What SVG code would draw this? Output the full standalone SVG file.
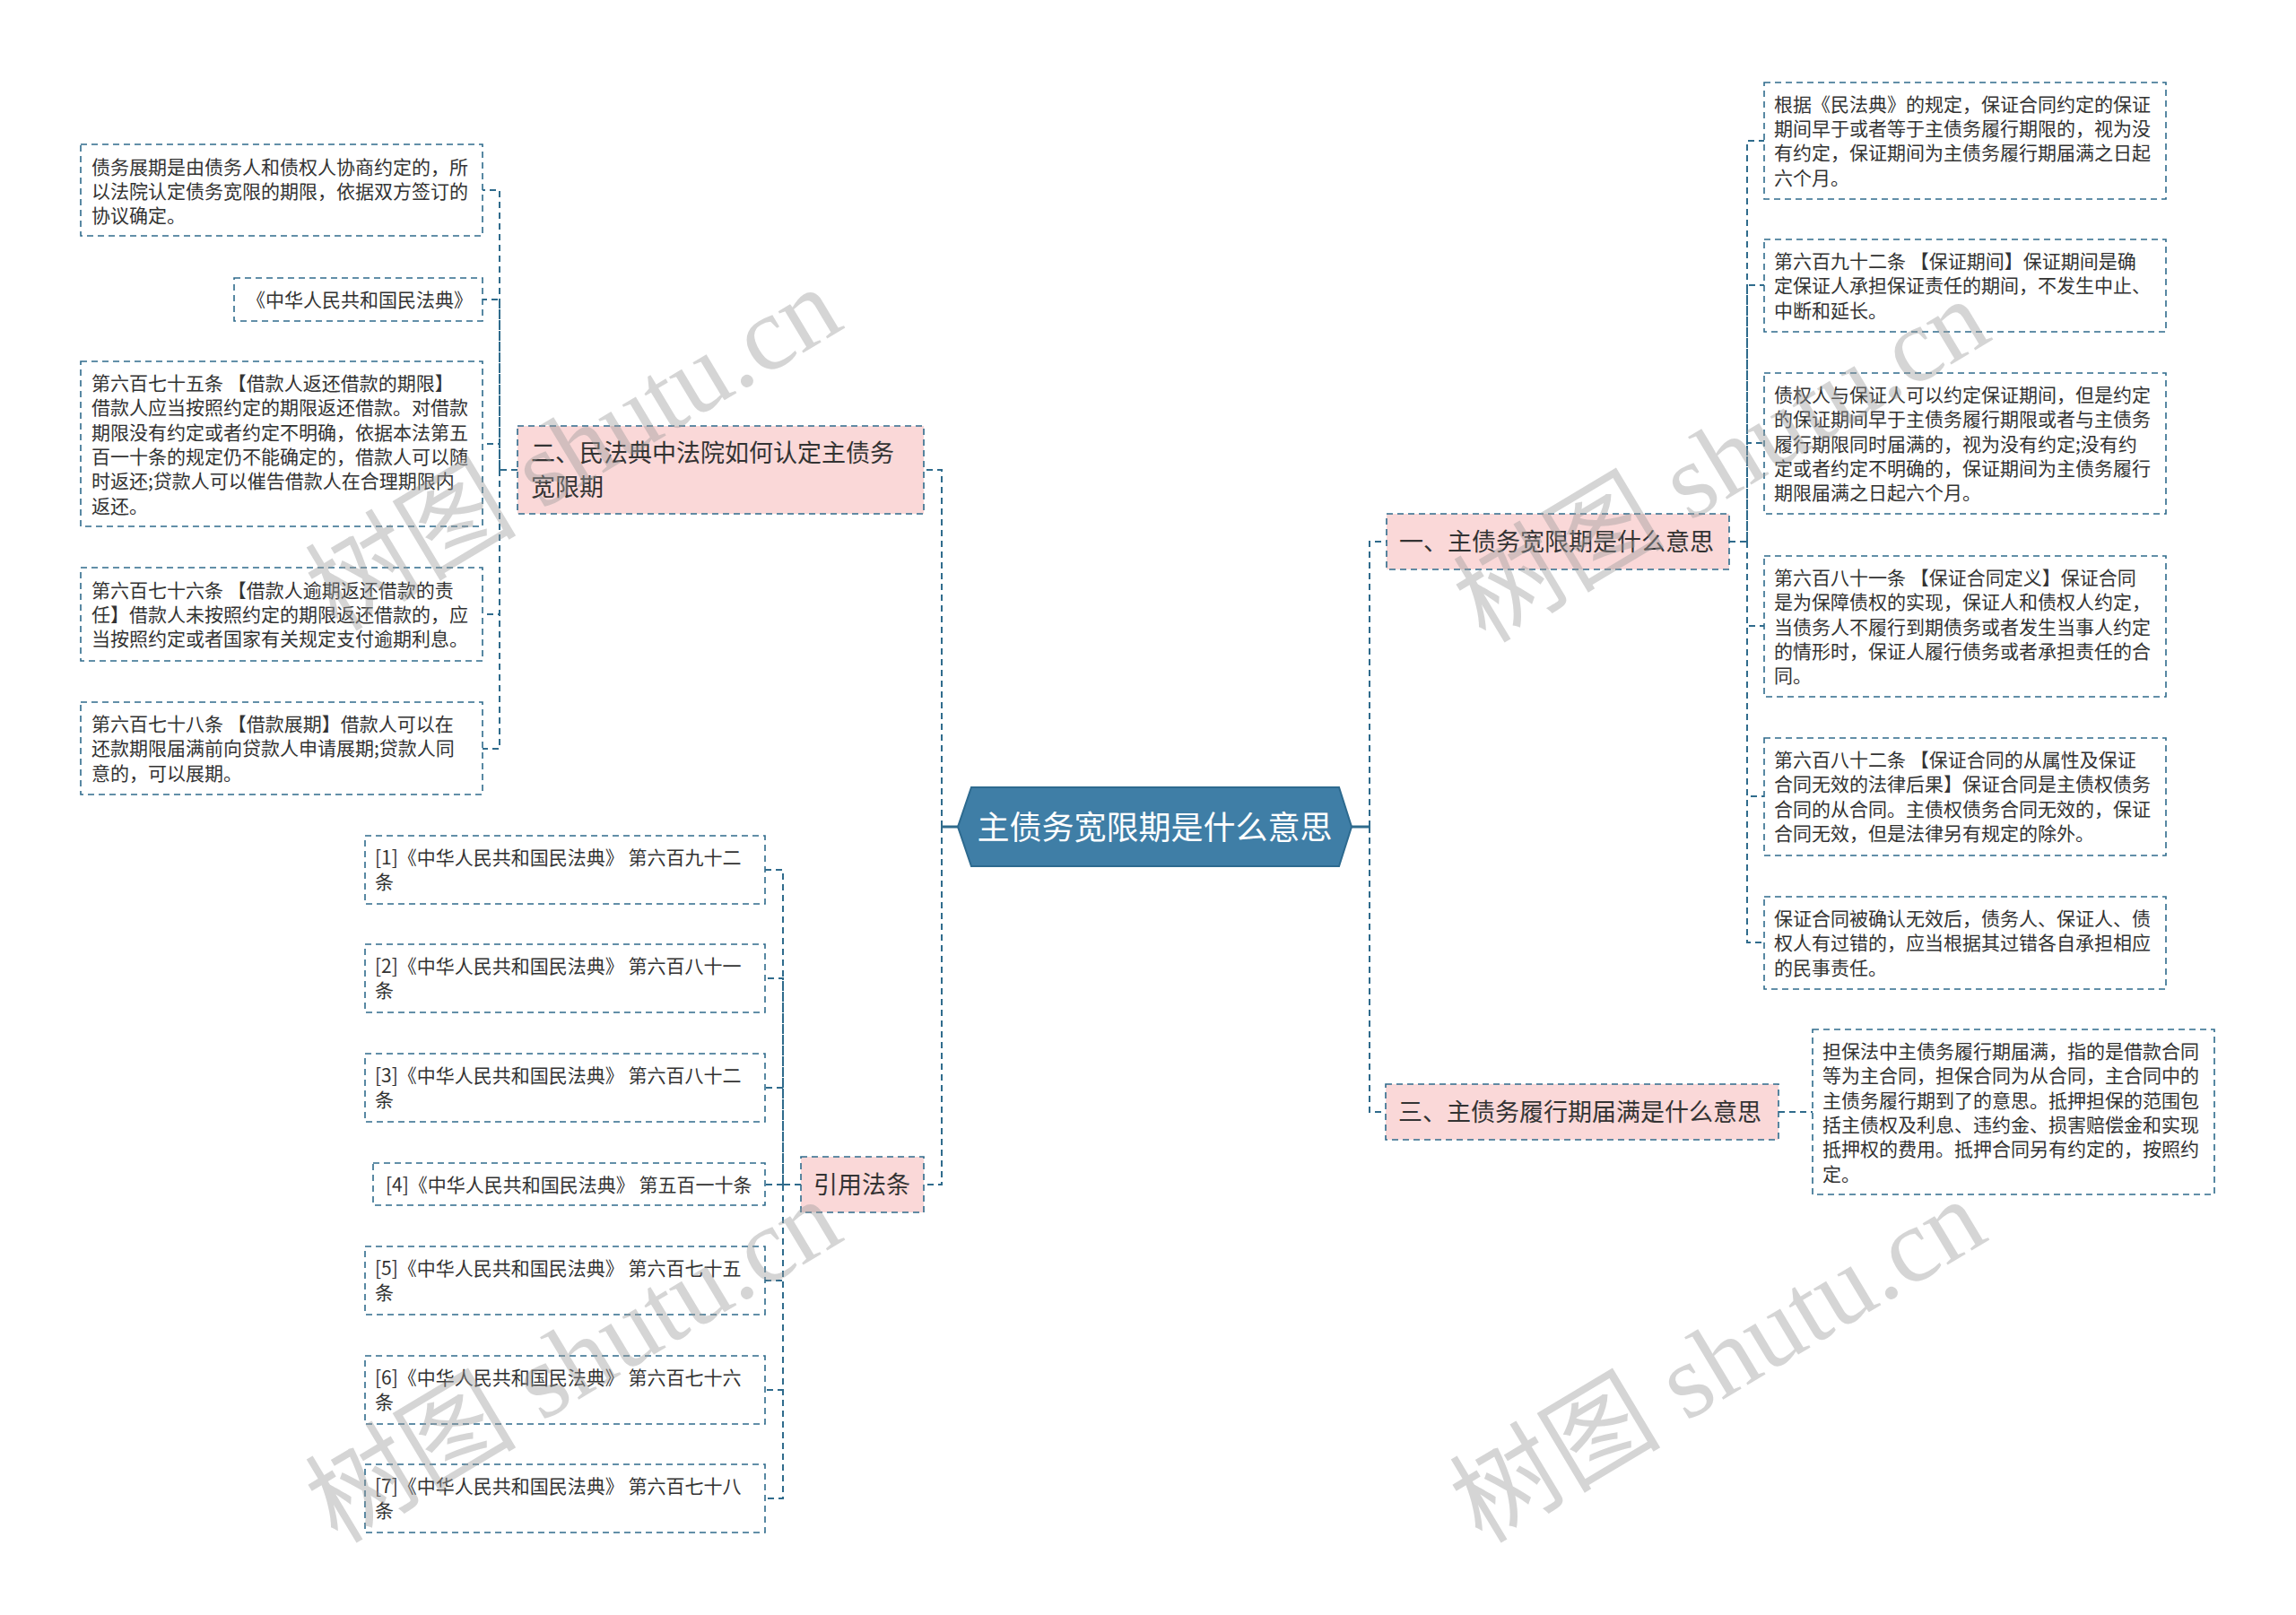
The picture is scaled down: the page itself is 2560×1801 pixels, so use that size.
<svg xmlns="http://www.w3.org/2000/svg" width="2560" height="1801" viewBox="0 0 2560 1801">
<style>
.bg{fill:#ffffff}
.leaf{fill:#ffffff;stroke:#2f6b8c;stroke-width:1.6;stroke-dasharray:7 5}
.l1{fill:#fad8d8;stroke:#2f6b8c;stroke-width:1.6;stroke-dasharray:7 5}
.t{font-family:"Noto Sans CJK SC","Noto Sans",sans-serif;font-size:21px;fill:#333333}
.t1{font-family:"Noto Sans CJK SC","Noto Sans",sans-serif;font-size:27px;fill:#333333}
.tc{font-family:"Noto Sans CJK SC","Noto Sans",sans-serif;font-size:36px;fill:#ffffff}
.c{fill:none;stroke:#2f6b8c;stroke-width:2;stroke-dasharray:7 5}
.cs{fill:none;stroke:#2f6b8c;stroke-width:3}
.wm{font-family:"Liberation Serif","Noto Sans CJK SC",serif;font-size:118px;fill:#9a9a9a;fill-opacity:0.42}
</style>
<rect class="bg" x="0" y="0" width="2560" height="1801"/>

<g id="connectors">
  <path class="cs" d="M1068,922 H1050"/>
  <path class="cs" d="M1507,922 H1527"/>
  <path class="c" d="M1050,922 V524 H1030"/>
  <path class="c" d="M1050,922 V1321 H1030"/>
  <path class="c" d="M1527,922 V604 H1546"/>
  <path class="c" d="M1527,922 V1240 H1545"/>
  <path class="c" d="M577,524 H557 V212 H538"/>
  <path class="c" d="M557,524 V334 H538"/>
  <path class="c" d="M557,524 V495 H538"/>
  <path class="c" d="M557,524 V685 H538"/>
  <path class="c" d="M557,524 V835 H538"/>
  <path class="c" d="M893,1321 H873 V970 H853"/>
  <path class="c" d="M873,1321 V1091 H853"/>
  <path class="c" d="M873,1321 V1213 H853"/>
  <path class="c" d="M873,1321 H853"/>
  <path class="c" d="M873,1321 V1428 H853"/>
  <path class="c" d="M873,1321 V1550 H853"/>
  <path class="c" d="M873,1321 V1671 H853"/>
  <path class="c" d="M1928,604 H1948 V157 H1967"/>
  <path class="c" d="M1948,604 V318 H1967"/>
  <path class="c" d="M1948,604 V494 H1967"/>
  <path class="c" d="M1948,604 V698 H1967"/>
  <path class="c" d="M1948,604 V888 H1967"/>
  <path class="c" d="M1948,604 V1051 H1967"/>
  <path class="c" d="M1983,1240 H2021"/>
</g>

<g id="central">
  <polygon points="1068,922 1083,878 1493,878 1507,922 1493,966 1083,966" fill="#3f7ea6" stroke="#2d6a8f" stroke-width="2"/>
  <text class="tc" x="1287.5" y="936" text-anchor="middle">主债务宽限期是什么意思</text>
</g>

<g id="n2">
  <rect class="l1" x="577" y="475" width="453" height="98"/>
  <text class="t1" x="592" y="515">二、民法典中法院如何认定主债务</text>
  <text class="t1" x="592" y="553">宽限期</text>
</g>
<g id="nref">
  <rect class="l1" x="893" y="1290" width="137" height="62"/>
  <text class="t1" x="907" y="1331">引用法条</text>
</g>
<g id="n1">
  <rect class="l1" x="1546" y="573" width="382" height="62"/>
  <text class="t1" x="1560" y="614">一、主债务宽限期是什么意思</text>
</g>
<g id="n3">
  <rect class="l1" x="1545" y="1209" width="438" height="62"/>
  <text class="t1" x="1559" y="1250">三、主债务履行期届满是什么意思</text>
</g>

<g id="l1">
  <rect class="leaf" x="90" y="161" width="448" height="102"/>
  <text class="t" x="102" y="194">债务展期是由债务人和债权人协商约定的，所</text>
  <text class="t" x="102" y="221">以法院认定债务宽限的期限，依据双方签订的</text>
  <text class="t" x="102" y="248">协议确定。</text>
</g>
<g id="l2">
  <rect class="leaf" x="261" y="310" width="277" height="48"/>
  <text class="t" x="275" y="342">《中华人民共和国民法典》</text>
</g>
<g id="l3">
  <rect class="leaf" x="90" y="403" width="448" height="184"/>
  <text class="t" x="102" y="435">第六百七十五条 【借款人返还借款的期限】</text>
  <text class="t" x="102" y="462">借款人应当按照约定的期限返还借款。对借款</text>
  <text class="t" x="102" y="490">期限没有约定或者约定不明确，依据本法第五</text>
  <text class="t" x="102" y="517">百一十条的规定仍不能确定的，借款人可以随</text>
  <text class="t" x="102" y="544">时返还;贷款人可以催告借款人在合理期限内</text>
  <text class="t" x="102" y="572">返还。</text>
</g>
<g id="l4">
  <rect class="leaf" x="90" y="633" width="448" height="104"/>
  <text class="t" x="102" y="666">第六百七十六条 【借款人逾期返还借款的责</text>
  <text class="t" x="102" y="693">任】借款人未按照约定的期限返还借款的，应</text>
  <text class="t" x="102" y="720">当按照约定或者国家有关规定支付逾期利息。</text>
</g>
<g id="l5">
  <rect class="leaf" x="90" y="783" width="448" height="103"/>
  <text class="t" x="102" y="815">第六百七十八条 【借款展期】借款人可以在</text>
  <text class="t" x="102" y="842">还款期限届满前向贷款人申请展期;贷款人同</text>
  <text class="t" x="102" y="870">意的，可以展期。</text>
</g>

<g id="c1">
  <rect class="leaf" x="407" y="932" width="446" height="76"/>
  <text class="t" x="418" y="964">[1]《中华人民共和国民法典》 第六百九十二</text>
  <text class="t" x="418" y="991">条</text>
</g>
<g id="c2">
  <rect class="leaf" x="407" y="1053" width="446" height="76"/>
  <text class="t" x="418" y="1085">[2]《中华人民共和国民法典》 第六百八十一</text>
  <text class="t" x="418" y="1112">条</text>
</g>
<g id="c3">
  <rect class="leaf" x="407" y="1175" width="446" height="76"/>
  <text class="t" x="418" y="1207">[3]《中华人民共和国民法典》 第六百八十二</text>
  <text class="t" x="418" y="1234">条</text>
</g>
<g id="c4">
  <rect class="leaf" x="416" y="1297" width="437" height="47"/>
  <text class="t" x="430" y="1329">[4]《中华人民共和国民法典》 第五百一十条</text>
</g>
<g id="c5">
  <rect class="leaf" x="407" y="1390" width="446" height="76"/>
  <text class="t" x="418" y="1422">[5]《中华人民共和国民法典》 第六百七十五</text>
  <text class="t" x="418" y="1449">条</text>
</g>
<g id="c6">
  <rect class="leaf" x="407" y="1512" width="446" height="76"/>
  <text class="t" x="418" y="1544">[6]《中华人民共和国民法典》 第六百七十六</text>
  <text class="t" x="418" y="1571">条</text>
</g>
<g id="c7">
  <rect class="leaf" x="407" y="1633" width="446" height="76"/>
  <text class="t" x="418" y="1665">[7]《中华人民共和国民法典》 第六百七十八</text>
  <text class="t" x="418" y="1692">条</text>
</g>

<g id="r1">
  <rect class="leaf" x="1967" y="92" width="448" height="130"/>
  <text class="t" x="1978" y="124">根据《民法典》的规定，保证合同约定的保证</text>
  <text class="t" x="1978" y="151">期间早于或者等于主债务履行期限的，视为没</text>
  <text class="t" x="1978" y="178">有约定，保证期间为主债务履行期届满之日起</text>
  <text class="t" x="1978" y="206">六个月。</text>
</g>
<g id="r2">
  <rect class="leaf" x="1967" y="267" width="448" height="103"/>
  <text class="t" x="1978" y="299">第六百九十二条 【保证期间】保证期间是确</text>
  <text class="t" x="1978" y="326">定保证人承担保证责任的期间，不发生中止、</text>
  <text class="t" x="1978" y="354">中断和延长。</text>
</g>
<g id="r3">
  <rect class="leaf" x="1967" y="416" width="448" height="157"/>
  <text class="t" x="1978" y="448">债权人与保证人可以约定保证期间，但是约定</text>
  <text class="t" x="1978" y="475">的保证期间早于主债务履行期限或者与主债务</text>
  <text class="t" x="1978" y="503">履行期限同时届满的，视为没有约定;没有约</text>
  <text class="t" x="1978" y="530">定或者约定不明确的，保证期间为主债务履行</text>
  <text class="t" x="1978" y="557">期限届满之日起六个月。</text>
</g>
<g id="r4">
  <rect class="leaf" x="1967" y="620" width="448" height="157"/>
  <text class="t" x="1978" y="652">第六百八十一条 【保证合同定义】保证合同</text>
  <text class="t" x="1978" y="679">是为保障债权的实现，保证人和债权人约定，</text>
  <text class="t" x="1978" y="707">当债务人不履行到期债务或者发生当事人约定</text>
  <text class="t" x="1978" y="734">的情形时，保证人履行债务或者承担责任的合</text>
  <text class="t" x="1978" y="761">同。</text>
</g>
<g id="r5">
  <rect class="leaf" x="1967" y="823" width="448" height="131"/>
  <text class="t" x="1978" y="855">第六百八十二条 【保证合同的从属性及保证</text>
  <text class="t" x="1978" y="882">合同无效的法律后果】保证合同是主债权债务</text>
  <text class="t" x="1978" y="910">合同的从合同。主债权债务合同无效的，保证</text>
  <text class="t" x="1978" y="937">合同无效，但是法律另有规定的除外。</text>
</g>
<g id="r6">
  <rect class="leaf" x="1967" y="1000" width="448" height="103"/>
  <text class="t" x="1978" y="1032">保证合同被确认无效后，债务人、保证人、债</text>
  <text class="t" x="1978" y="1059">权人有过错的，应当根据其过错各自承担相应</text>
  <text class="t" x="1978" y="1087">的民事责任。</text>
</g>
<g id="r7">
  <rect class="leaf" x="2021" y="1148" width="448" height="184"/>
  <text class="t" x="2032" y="1180">担保法中主债务履行期届满，指的是借款合同</text>
  <text class="t" x="2032" y="1207">等为主合同，担保合同为从合同，主合同中的</text>
  <text class="t" x="2032" y="1235">主债务履行期到了的意思。抵押担保的范围包</text>
  <text class="t" x="2032" y="1262">括主债权及利息、违约金、损害赔偿金和实现</text>
  <text class="t" x="2032" y="1289">抵押权的费用。抵押合同另有约定的，按照约</text>
  <text class="t" x="2032" y="1317">定。</text>
</g>

<g id="watermarks">
  <text class="wm" x="0" y="0" text-anchor="middle" transform="translate(660,535) rotate(-31)">树图 shutu.cn</text>
  <text class="wm" x="0" y="0" text-anchor="middle" transform="translate(1940,548) rotate(-31)">树图 shutu.cn</text>
  <text class="wm" x="0" y="0" text-anchor="middle" transform="translate(660,1552) rotate(-31)">树图 shutu.cn</text>
  <text class="wm" x="0" y="0" text-anchor="middle" transform="translate(1936,1552) rotate(-31)">树图 shutu.cn</text>
</g>
</svg>
